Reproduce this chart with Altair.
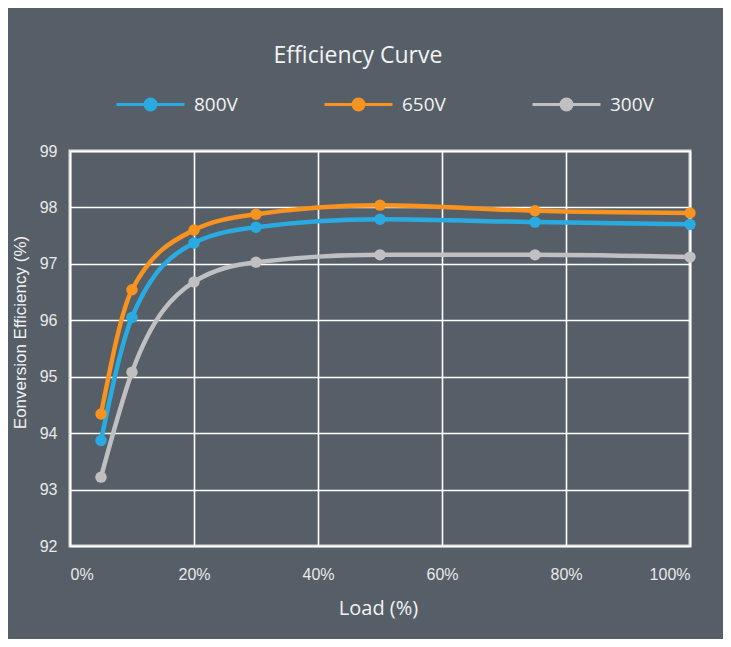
import altair as alt
import pandas as pd

loads = [5, 10, 20, 30, 50, 75, 100]
series_names = ["800V", "650V", "300V"]
eff_800 = [93.87, 96.05, 97.37, 97.65, 97.79, 97.74, 97.70]
eff_650 = [94.34, 96.54, 97.60, 97.88, 98.04, 97.94, 97.90]
eff_300 = [93.22, 95.08, 96.68, 97.03, 97.16, 97.16, 97.12]
colors = ["#29abe2", "#f7931e", "#c0c0c2"]
x_ticks = [0, 20, 40, 60, 80, 100]
y_ticks = [92, 93, 94, 95, 96, 97, 98, 99]

rows = []
for name, vals in zip(series_names, [eff_800, eff_650, eff_300]):
    for l, v in zip(loads, vals):
        rows.append({"Load": l, "Efficiency": v, "Series": name})
df = pd.DataFrame(rows)

BG = "#565f68"
TXT = "#f2f2f2"

# line + dot legend symbol (unit coords, scaled by sqrt(size)/2)
rings = [0.16, 0.11, 0.06, 0.02]
sym = "M-1,0L1,0" + "".join(
    f"M{r},0A{r},{r},0,1,1,{-r},0A{r},{r},0,1,1,{r},0" for r in rings
)

legend = alt.Legend(
    title=None,
    orient="none",
    direction="horizontal",
    legendX=45,
    legendY=-82,
    symbolType=sym,
    symbolSize=4624,
    symbolStrokeWidth=3,
    labelFont="Open Sans",
    labelFontSize=19,
    labelColor=TXT,
    labelOffset=8,
    columnPadding=80,
    padding=0,
)

color = alt.Color(
    "Series:N",
    scale=alt.Scale(domain=series_names, range=colors),
    sort=series_names,
    legend=legend,
)

x = alt.X(
    "Load:Q",
    scale=alt.Scale(domain=[0, 100], nice=False),
    axis=alt.Axis(
        values=x_ticks,
        labelExpr="datum.value + '%'",
        title="Load (%)",
        titleFont="Open Sans",
        titleFontSize=20,
        titleFontWeight="normal",
        titleColor=TXT,
        titleX=308,
        titleY=62,
        titleBaseline="middle",
        labelPadding=20,
    ),
)
y = alt.Y(
    "Efficiency:Q",
    scale=alt.Scale(domain=[92, 99], nice=False, zero=False),
    axis=alt.Axis(
        values=y_ticks,
        title="Eonversion Efficiency (%)",
        titleFont="Liberation Sans",
        titleFontSize=17,
        titleFontWeight="normal",
        titleColor=TXT,
        titleX=-50,
        titleY=181,
        titleAngle=270,
        titleAlign="center",
        titleBaseline="middle",
        labelPadding=13,
    ),
)

base = alt.Chart(df).encode(x=x, y=y, color=color)
lines = base.mark_line(interpolate="monotone", strokeWidth=4.5)
points = base.mark_point(filled=True, size=130, opacity=1)

chart = (
    alt.layer(lines, points)
    .properties(
        width=620,
        height=395,
        padding={"left": 62, "top": 143, "right": 33, "bottom": 93},
        autosize=alt.AutoSizeParams(type="none"),
        title=alt.TitleParams(
            "Efficiency Curve",
            font="Open Sans",
            fontSize=23,
            fontWeight="normal",
            color=TXT,
            anchor="middle",
            frame="group",
            dx=-22,
            dy=23,
            offset=6,
            baseline="alphabetic",
        ),
    )
    .configure(background=BG)
    .configure_view(stroke="#dcdcdc", strokeWidth=3)
    .configure_axis(
        grid=True,
        gridColor="#ffffff",
        gridWidth=1.6,
        gridOpacity=1,
        domain=False,
        ticks=False,
        tickSize=0,
        labelFont="Liberation Sans",
        labelFontSize=16,
        labelColor="#e8e8e8",
    )
)

chart.save("out.html", embed_options={"renderer": "svg", "actions": False})
